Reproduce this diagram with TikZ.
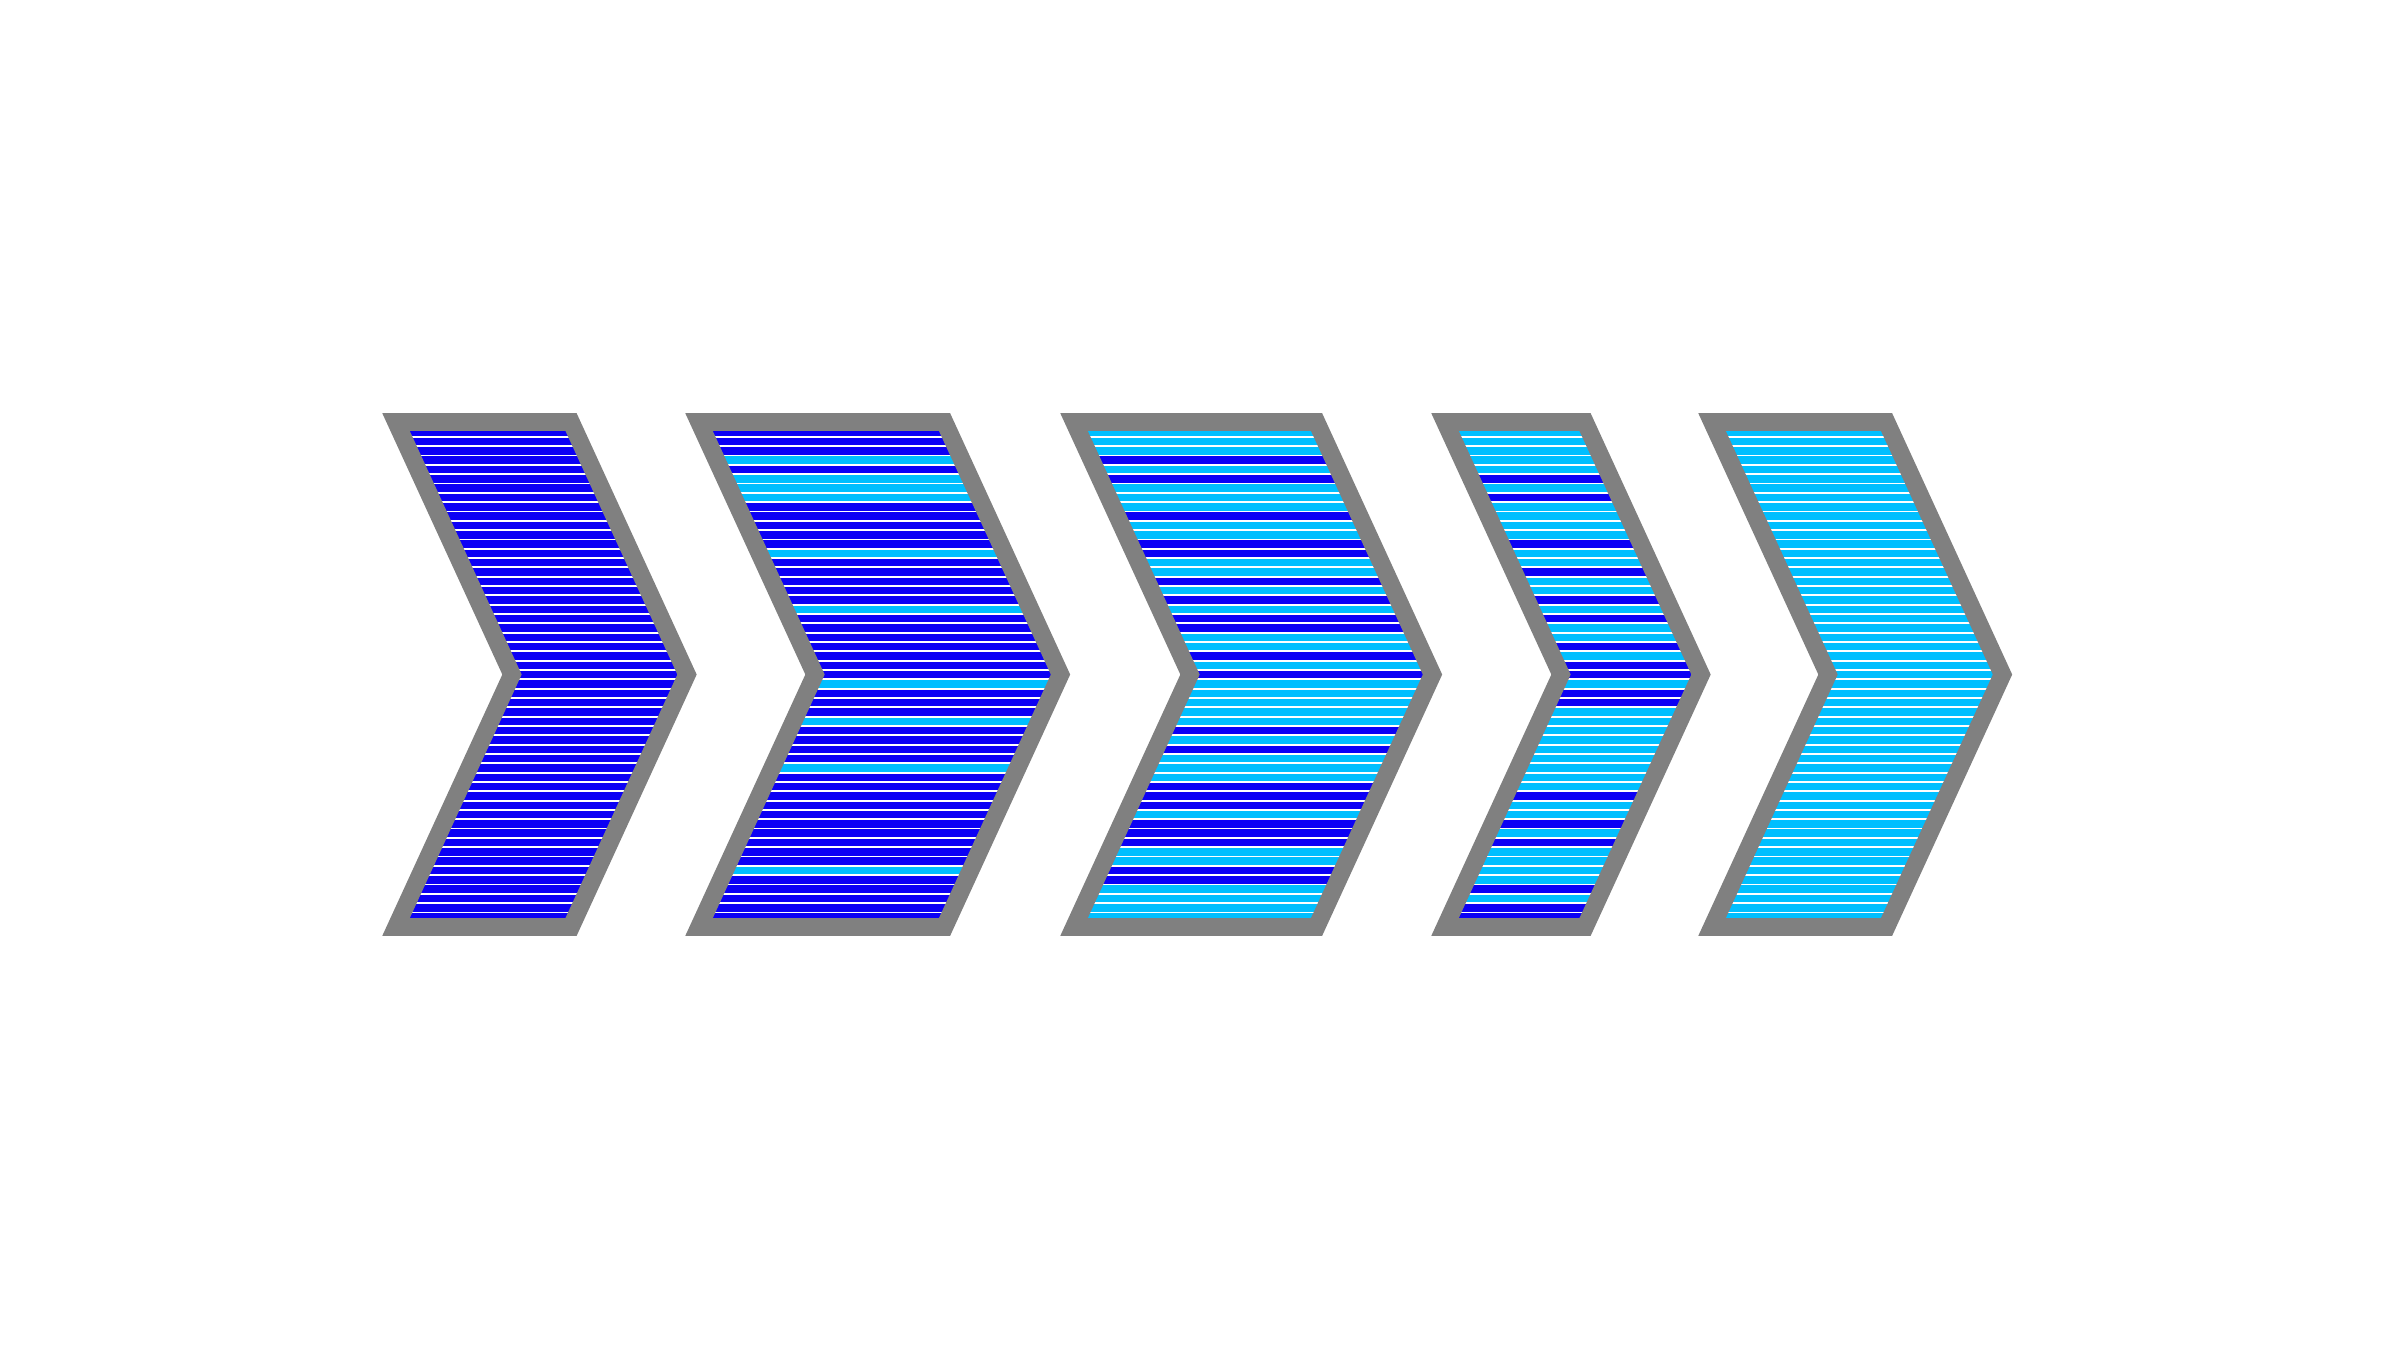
\documentclass[tikz,border=0pt]{standalone}
\usepackage[dvipsnames]{xcolor}
\usetikzlibrary{calc}

\definecolor{barblue}{RGB}{12,0,245}
\definecolor{barcyan}{RGB}{0,191,255}
\definecolor{rimgray}{RGB}{128,128,128}

\begin{document}
\begin{tikzpicture}[x=0.01cm, y=-0.01cm,
	rim/.style={draw=rimgray, line width=5pt, line join=miter},
	bandsep/.style={white, line width=0.5pt}]
\def\ytop{422};
\def\ybot{927};
\def\slant{116};
\def\pitch{9.33};
\def\yband{427.4};
\def\nband{53};

\useasboundingbox (0,0) rectangle (2400,1350);

\foreach \n/\xl/\w/\base/\odd/\oddlist in {
	1/396/175/barblue/barblue/{0},
	2/699/245.5/barblue/barcyan/{3,5,6,7,13,19,27,31,36,47},
	3/1074/242.5/barcyan/barblue/{3,5,9,12,13,16,18,20,21,24,26,32,34,38,39,40,42,43,44,47,48},
	4/1445/140/barcyan/barblue/{5,7,12,15,18,20,23,25,26,28,29,39,42,44,49,51,52},
	5/1712/174.5/barcyan/barcyan/{0}}
{
	\coordinate (\n A) at (\xl,\ytop);
	\coordinate (\n B) at (\xl+\w,\ytop);
	\coordinate (\n C) at ($ (\n B) + (\slant,{(\ybot-\ytop)/2}) $);
	\coordinate (\n D) at (\xl+\w,\ybot);
	\coordinate (\n E) at (\xl,\ybot);
	\coordinate (\n F) at ($ (\n A) + (\slant,{(\ybot-\ytop)/2}) $);

	\begin{scope}
		\clip (\n A) -- (\n B) -- (\n C) -- (\n D) -- (\n E) -- (\n F) -- cycle;
		\fill[\base] (\xl-20,\yband) rectangle (\xl+\w+\slant+20,\yband+\nband*\pitch);
		\foreach \k in \oddlist
			\fill[\odd] (\xl-20,\yband+\k*\pitch) rectangle (\xl+\w+\slant+20,\yband+\k*\pitch+\pitch);
		\foreach \k in {1,...,52}
			\draw[bandsep] (\xl-20,\yband+\k*\pitch) -- (\xl+\w+\slant+20,\yband+\k*\pitch);
	\end{scope}

	\draw[rim] (\n A) -- (\n B) -- (\n C) -- (\n D) -- (\n E) -- (\n F) -- cycle;
}

\end{tikzpicture}
\end{document}
